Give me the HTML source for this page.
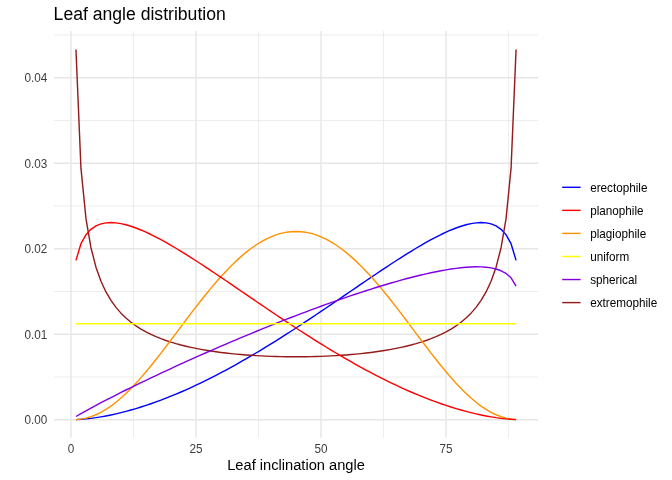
<!DOCTYPE html>
<html><head><meta charset="utf-8"><style>
html,body{margin:0;padding:0;background:#fff;}
svg{display:block;will-change:transform;font-family:"Liberation Sans",sans-serif;}
</style></head><body>
<svg width="672" height="480" viewBox="0 0 672 480">
<rect width="672" height="480" fill="#fff"/>
<line x1="133.47" y1="31.0" x2="133.47" y2="437.7" stroke="#E6E6E6" stroke-width="0.71"/>
<line x1="258.50" y1="31.0" x2="258.50" y2="437.7" stroke="#E6E6E6" stroke-width="0.71"/>
<line x1="383.53" y1="31.0" x2="383.53" y2="437.7" stroke="#E6E6E6" stroke-width="0.71"/>
<line x1="508.56" y1="31.0" x2="508.56" y2="437.7" stroke="#E6E6E6" stroke-width="0.71"/>
<line x1="53.95" y1="377.00" x2="538.1" y2="377.00" stroke="#E6E6E6" stroke-width="0.71"/>
<line x1="53.95" y1="291.51" x2="538.1" y2="291.51" stroke="#E6E6E6" stroke-width="0.71"/>
<line x1="53.95" y1="206.02" x2="538.1" y2="206.02" stroke="#E6E6E6" stroke-width="0.71"/>
<line x1="53.95" y1="120.53" x2="538.1" y2="120.53" stroke="#E6E6E6" stroke-width="0.71"/>
<line x1="53.95" y1="35.05" x2="538.1" y2="35.05" stroke="#E6E6E6" stroke-width="0.71"/>
<line x1="70.95" y1="31.0" x2="70.95" y2="437.7" stroke="#E6E6E6" stroke-width="1.42"/>
<line x1="195.98" y1="31.0" x2="195.98" y2="437.7" stroke="#E6E6E6" stroke-width="1.42"/>
<line x1="321.01" y1="31.0" x2="321.01" y2="437.7" stroke="#E6E6E6" stroke-width="1.42"/>
<line x1="446.05" y1="31.0" x2="446.05" y2="437.7" stroke="#E6E6E6" stroke-width="1.42"/>
<line x1="53.95" y1="419.75" x2="538.1" y2="419.75" stroke="#E6E6E6" stroke-width="1.42"/>
<line x1="53.95" y1="334.26" x2="538.1" y2="334.26" stroke="#E6E6E6" stroke-width="1.42"/>
<line x1="53.95" y1="248.77" x2="538.1" y2="248.77" stroke="#E6E6E6" stroke-width="1.42"/>
<line x1="53.95" y1="163.28" x2="538.1" y2="163.28" stroke="#E6E6E6" stroke-width="1.42"/>
<line x1="53.95" y1="77.79" x2="538.1" y2="77.79" stroke="#E6E6E6" stroke-width="1.42"/>
<polyline points="75.95,419.63 80.95,419.33 85.95,418.90 90.96,418.34 95.96,417.66 100.96,416.86 105.96,415.97 110.96,414.97 115.96,413.87 120.96,412.68 125.96,411.40 130.97,410.03 135.97,408.58 140.97,407.04 145.97,405.42 150.97,403.72 155.97,401.95 160.97,400.10 165.97,398.18 170.98,396.19 175.98,394.12 180.98,391.99 185.98,389.80 190.98,387.54 195.98,385.22 200.98,382.83 205.99,380.39 210.99,377.89 215.99,375.33 220.99,372.71 225.99,370.05 230.99,367.33 235.99,364.56 240.99,361.74 246.00,358.88 251.00,355.97 256.00,353.01 261.00,350.02 266.00,346.98 271.00,343.90 276.00,340.79 281.00,337.64 286.01,334.46 291.01,331.24 296.01,328.00 301.01,324.73 306.01,321.43 311.01,318.11 316.01,314.77 321.01,311.41 326.02,308.03 331.02,304.64 336.02,301.23 341.02,297.82 346.02,294.41 351.02,290.99 356.02,287.57 361.03,284.16 366.03,280.75 371.03,277.36 376.03,273.99 381.03,270.63 386.03,267.31 391.03,264.01 396.03,260.76 401.04,257.54 406.04,254.38 411.04,251.28 416.04,248.25 421.04,245.30 426.04,242.43 431.04,239.67 436.04,237.03 441.05,234.51 446.05,232.15 451.05,229.97 456.05,227.99 461.05,226.24 466.05,224.77 471.05,223.62 476.06,222.86 481.06,222.57 486.06,222.87 491.06,223.91 496.06,225.94 501.06,229.34 506.06,234.78 511.06,243.72 516.07,260.35" fill="none" stroke="#0000FF" stroke-width="1.42" stroke-linejoin="round" stroke-linecap="butt"/>
<polyline points="75.95,49.44 80.95,168.18 85.95,218.55 90.96,247.71 95.96,267.14 100.96,281.21 105.96,291.94 110.96,300.44 115.96,307.37 120.96,313.14 125.96,318.02 130.97,322.22 135.97,325.86 140.97,329.05 145.97,331.88 150.97,334.39 155.97,336.63 160.97,338.65 165.97,340.47 170.98,342.12 175.98,343.62 180.98,344.99 185.98,346.23 190.98,347.37 195.98,348.41 200.98,349.37 205.99,350.24 210.99,351.04 215.99,351.77 220.99,352.43 225.99,353.04 230.99,353.59 235.99,354.09 240.99,354.54 246.00,354.95 251.00,355.31 256.00,355.62 261.00,355.90 266.00,356.14 271.00,356.34 276.00,356.50 281.00,356.62 286.01,356.71 291.01,356.76 296.01,356.78 301.01,356.76 306.01,356.71 311.01,356.62 316.01,356.50 321.01,356.34 326.02,356.14 331.02,355.90 336.02,355.62 341.02,355.31 346.02,354.95 351.02,354.54 356.02,354.09 361.03,353.59 366.03,353.04 371.03,352.43 376.03,351.77 381.03,351.04 386.03,350.24 391.03,349.37 396.03,348.41 401.04,347.37 406.04,346.23 411.04,344.99 416.04,343.62 421.04,342.12 426.04,340.47 431.04,338.65 436.04,336.63 441.05,334.39 446.05,331.88 451.05,329.05 456.05,325.86 461.05,322.22 466.05,318.02 471.05,313.14 476.06,307.37 481.06,300.44 486.06,291.94 491.06,281.21 496.06,267.14 501.06,247.71 506.06,218.55 511.06,168.18 516.07,49.44" fill="none" stroke="#951A1A" stroke-width="1.42" stroke-linejoin="round" stroke-linecap="butt"/>
<polyline points="75.95,419.62 80.95,419.11 85.95,418.15 90.96,416.70 95.96,414.76 100.96,412.34 105.96,409.43 110.96,406.07 115.96,402.26 120.96,398.04 125.96,393.43 130.97,388.47 135.97,383.18 140.97,377.60 145.97,371.77 150.97,365.71 155.97,359.47 160.97,353.07 165.97,346.55 170.98,339.95 175.98,333.31 180.98,326.64 185.98,320.00 190.98,313.41 195.98,306.89 200.98,300.49 205.99,294.23 210.99,288.14 215.99,282.25 220.99,276.58 225.99,271.16 230.99,266.01 235.99,261.15 240.99,256.60 246.00,252.38 251.00,248.52 256.00,245.01 261.00,241.89 266.00,239.15 271.00,236.82 276.00,234.90 281.00,233.40 286.01,232.32 291.01,231.68 296.01,231.46 301.01,231.68 306.01,232.32 311.01,233.40 316.01,234.90 321.01,236.82 326.02,239.15 331.02,241.89 336.02,245.01 341.02,248.52 346.02,252.38 351.02,256.60 356.02,261.15 361.03,266.01 366.03,271.16 371.03,276.58 376.03,282.25 381.03,288.14 386.03,294.23 391.03,300.49 396.03,306.89 401.04,313.41 406.04,320.00 411.04,326.64 416.04,333.31 421.04,339.95 426.04,346.55 431.04,353.07 436.04,359.47 441.05,365.71 446.05,371.77 451.05,377.60 456.05,383.18 461.05,388.47 466.05,393.43 471.05,398.04 476.06,402.26 481.06,406.07 486.06,409.43 491.06,412.34 496.06,414.76 501.06,416.70 506.06,418.15 511.06,419.11 516.07,419.62" fill="none" stroke="#FF9200" stroke-width="1.42" stroke-linejoin="round" stroke-linecap="butt"/>
<polyline points="75.95,260.35 80.95,243.72 85.95,234.78 90.96,229.34 95.96,225.94 100.96,223.91 105.96,222.87 110.96,222.57 115.96,222.86 120.96,223.62 125.96,224.77 130.97,226.24 135.97,227.99 140.97,229.97 145.97,232.15 150.97,234.51 155.97,237.03 160.97,239.67 165.97,242.43 170.98,245.30 175.98,248.25 180.98,251.28 185.98,254.38 190.98,257.54 195.98,260.76 200.98,264.01 205.99,267.31 210.99,270.63 215.99,273.99 220.99,277.36 225.99,280.75 230.99,284.16 235.99,287.57 240.99,290.99 246.00,294.41 251.00,297.82 256.00,301.23 261.00,304.64 266.00,308.03 271.00,311.41 276.00,314.77 281.00,318.11 286.01,321.43 291.01,324.73 296.01,328.00 301.01,331.24 306.01,334.46 311.01,337.64 316.01,340.79 321.01,343.90 326.02,346.98 331.02,350.02 336.02,353.01 341.02,355.97 346.02,358.88 351.02,361.74 356.02,364.56 361.03,367.33 366.03,370.05 371.03,372.71 376.03,375.33 381.03,377.89 386.03,380.39 391.03,382.83 396.03,385.22 401.04,387.54 406.04,389.80 411.04,391.99 416.04,394.12 421.04,396.19 426.04,398.18 431.04,400.10 436.04,401.95 441.05,403.72 446.05,405.42 451.05,407.04 456.05,408.58 461.05,410.03 466.05,411.40 471.05,412.68 476.06,413.87 481.06,414.97 486.06,415.97 491.06,416.86 496.06,417.66 501.06,418.34 506.06,418.90 511.06,419.33 516.07,419.63" fill="none" stroke="#FF0000" stroke-width="1.42" stroke-linejoin="round" stroke-linecap="butt"/>
<polyline points="75.95,416.51 80.95,413.59 85.95,410.78 90.96,408.04 95.96,405.36 100.96,402.72 105.96,400.12 110.96,397.55 115.96,395.01 120.96,392.49 125.96,390.01 130.97,387.54 135.97,385.10 140.97,382.67 145.97,380.27 150.97,377.88 155.97,375.52 160.97,373.17 165.97,370.83 170.98,368.52 175.98,366.22 180.98,363.93 185.98,361.66 190.98,359.41 195.98,357.17 200.98,354.95 205.99,352.74 210.99,350.55 215.99,348.37 220.99,346.20 225.99,344.06 230.99,341.92 235.99,339.80 240.99,337.70 246.00,335.61 251.00,333.54 256.00,331.48 261.00,329.44 266.00,327.41 271.00,325.40 276.00,323.40 281.00,321.42 286.01,319.46 291.01,317.52 296.01,315.59 301.01,313.68 306.01,311.79 311.01,309.91 316.01,308.06 321.01,306.22 326.02,304.41 331.02,302.62 336.02,300.84 341.02,299.09 346.02,297.36 351.02,295.66 356.02,293.98 361.03,292.33 366.03,290.70 371.03,289.10 376.03,287.53 381.03,285.99 386.03,284.48 391.03,283.01 396.03,281.57 401.04,280.17 406.04,278.81 411.04,277.50 416.04,276.23 421.04,275.01 426.04,273.85 431.04,272.74 436.04,271.70 441.05,270.73 446.05,269.84 451.05,269.03 456.05,268.33 461.05,267.73 466.05,267.27 471.05,266.95 476.06,266.81 481.06,266.89 486.06,267.22 491.06,267.90 496.06,269.02 501.06,270.77 506.06,273.47 511.06,277.84 516.07,286.04" fill="none" stroke="#8000E6" stroke-width="1.42" stroke-linejoin="round" stroke-linecap="butt"/>
<polyline points="75.95,323.69 80.95,323.69 85.95,323.69 90.96,323.69 95.96,323.69 100.96,323.69 105.96,323.69 110.96,323.69 115.96,323.69 120.96,323.69 125.96,323.69 130.97,323.69 135.97,323.69 140.97,323.69 145.97,323.69 150.97,323.69 155.97,323.69 160.97,323.69 165.97,323.69 170.98,323.69 175.98,323.69 180.98,323.69 185.98,323.69 190.98,323.69 195.98,323.69 200.98,323.69 205.99,323.69 210.99,323.69 215.99,323.69 220.99,323.69 225.99,323.69 230.99,323.69 235.99,323.69 240.99,323.69 246.00,323.69 251.00,323.69 256.00,323.69 261.00,323.69 266.00,323.69 271.00,323.69 276.00,323.69 281.00,323.69 286.01,323.69 291.01,323.69 296.01,323.69 301.01,323.69 306.01,323.69 311.01,323.69 316.01,323.69 321.01,323.69 326.02,323.69 331.02,323.69 336.02,323.69 341.02,323.69 346.02,323.69 351.02,323.69 356.02,323.69 361.03,323.69 366.03,323.69 371.03,323.69 376.03,323.69 381.03,323.69 386.03,323.69 391.03,323.69 396.03,323.69 401.04,323.69 406.04,323.69 411.04,323.69 416.04,323.69 421.04,323.69 426.04,323.69 431.04,323.69 436.04,323.69 441.05,323.69 446.05,323.69 451.05,323.69 456.05,323.69 461.05,323.69 466.05,323.69 471.05,323.69 476.06,323.69 481.06,323.69 486.06,323.69 491.06,323.69 496.06,323.69 501.06,323.69 506.06,323.69 511.06,323.69 516.07,323.69" fill="none" stroke="#FFFF00" stroke-width="1.42" stroke-linejoin="round" stroke-linecap="butt"/>
<text transform="translate(47.3 424.10) scale(1 1.06)" text-anchor="end" font-size="11.73" fill="#3D3D3D">0.00</text>
<text transform="translate(47.3 338.61) scale(1 1.06)" text-anchor="end" font-size="11.73" fill="#3D3D3D">0.01</text>
<text transform="translate(47.3 253.12) scale(1 1.06)" text-anchor="end" font-size="11.73" fill="#3D3D3D">0.02</text>
<text transform="translate(47.3 167.63) scale(1 1.06)" text-anchor="end" font-size="11.73" fill="#3D3D3D">0.03</text>
<text transform="translate(47.3 82.14) scale(1 1.06)" text-anchor="end" font-size="11.73" fill="#3D3D3D">0.04</text>
<text transform="translate(70.95 453.2) scale(1 1.06)" text-anchor="middle" font-size="11.73" fill="#3D3D3D">0</text>
<text transform="translate(195.98 453.2) scale(1 1.06)" text-anchor="middle" font-size="11.73" fill="#3D3D3D">25</text>
<text transform="translate(321.01 453.2) scale(1 1.06)" text-anchor="middle" font-size="11.73" fill="#3D3D3D">50</text>
<text transform="translate(446.05 453.2) scale(1 1.06)" text-anchor="middle" font-size="11.73" fill="#3D3D3D">75</text>
<text transform="translate(296.03 469.9) scale(1 1.03)" text-anchor="middle" font-size="14.67" fill="#000">Leaf inclination angle</text>
<text x="53.6" y="19.9" font-size="17.6" fill="#000">Leaf angle distribution</text>
<line x1="562.2" y1="187.30" x2="580.6" y2="187.30" stroke="#0000FF" stroke-width="1.42"/>
<text transform="translate(590.2 191.65) scale(1 1.07)" font-size="11.73" fill="#000">erectophile</text>
<line x1="562.2" y1="210.36" x2="580.6" y2="210.36" stroke="#FF0000" stroke-width="1.42"/>
<text transform="translate(590.2 214.71) scale(1 1.07)" font-size="11.73" fill="#000">planophile</text>
<line x1="562.2" y1="233.42" x2="580.6" y2="233.42" stroke="#FF9200" stroke-width="1.42"/>
<text transform="translate(590.2 237.77) scale(1 1.07)" font-size="11.73" fill="#000">plagiophile</text>
<line x1="562.2" y1="256.48" x2="580.6" y2="256.48" stroke="#FFFF00" stroke-width="1.42"/>
<text transform="translate(590.2 260.83) scale(1 1.07)" font-size="11.73" fill="#000">uniform</text>
<line x1="562.2" y1="279.54" x2="580.6" y2="279.54" stroke="#8000E6" stroke-width="1.42"/>
<text transform="translate(590.2 283.89) scale(1 1.07)" font-size="11.73" fill="#000">spherical</text>
<line x1="562.2" y1="302.60" x2="580.6" y2="302.60" stroke="#951A1A" stroke-width="1.42"/>
<text transform="translate(590.2 306.95) scale(1 1.07)" font-size="11.73" fill="#000">extremophile</text>
</svg>
</body></html>
